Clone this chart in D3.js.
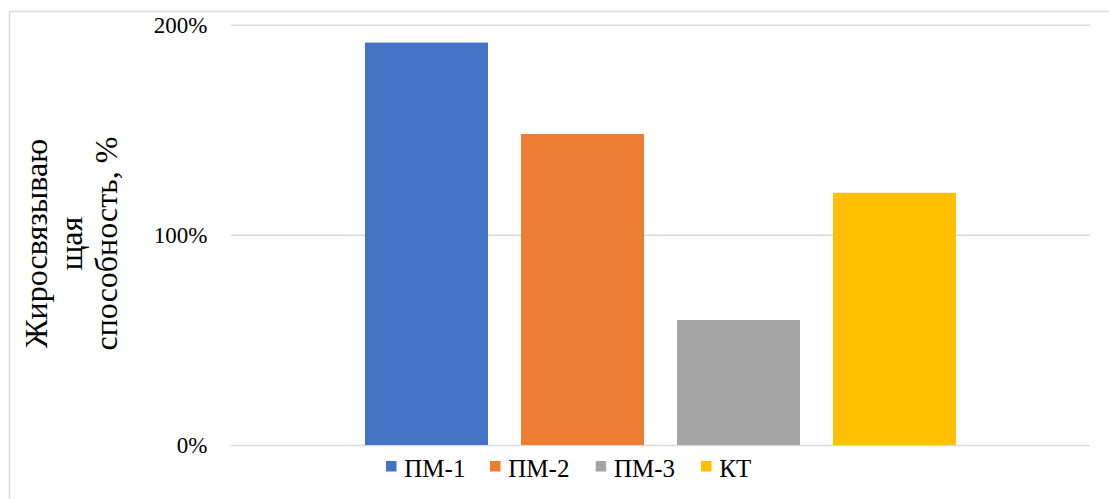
<!DOCTYPE html>
<html>
<head>
<meta charset="utf-8">
<script src="https://cdn.jsdelivr.net/npm/d3@7"></script>
</head>
<body style="margin:0;background:#fff">
<svg id="fig" width="1109" height="499" style="display:block"></svg>
<script>
// ---- data ----
const categories = [""];
const seriesNames = ["ПМ-1", "ПМ-2", "ПМ-3", "КТ"];
const seriesValues = [1.915, 1.48, 0.595, 1.20];
const seriesColors = ["#4472C4", "#ED7D31", "#A5A5A5", "#FFC000"];
const yTicks = [0, 1, 2];
const yTitleLines = ["Жиросвязываю", "щая", "способность, %"];

// ---- layout ----
const plot = { left: 231, right: 1090, top: 24.7, bottom: 445 };
const svg = d3.select("#fig");
const FONT = "Liberation Serif";

function serif(sel, size) {
  return sel.attr("font-family", FONT)
    .attr("font-size", size)
    .attr("fill", "#000")
    .style("font-family", FONT, "important")
    .style("font-size", size + "px", "important");
}

// chart border (outer frame)
svg.append("rect")
  .attr("x", 9.5).attr("y", 11.5)
  .attr("width", 1300).attr("height", 700)
  .attr("fill", "none").attr("stroke", "#D9D9D9").attr("stroke-width", 1.5);

const y = d3.scaleLinear().domain([0, 2]).range([plot.bottom, plot.top]);
const x0 = d3.scaleBand().domain(categories).range([plot.left, plot.right])
  .paddingInner(0).paddingOuter(0.2267);
const x1 = d3.scaleBand().domain(seriesNames).range([0, x0.bandwidth()])
  .paddingInner(0.2115).paddingOuter(0);

// gridlines + tick labels
const yAxis = d3.axisLeft(y).tickValues(yTicks)
  .tickSize(-(plot.right - plot.left))
  .tickFormat(d => d3.format(".0%")(d));
const gAxis = svg.append("g")
  .attr("transform", `translate(${plot.left},0)`)
  .call(yAxis);
gAxis.attr("font-family", FONT).attr("font-size", 23);
gAxis.select(".domain").remove();
gAxis.selectAll(".tick line").attr("stroke", "#D9D9D9").attr("stroke-width", 1.5);
serif(gAxis.selectAll(".tick text"), 23)
  .attr("x", -23.5)
  .attr("dy", "0.33em");

// bars
const data = seriesNames.map((name, i) => ({ name, value: seriesValues[i], color: seriesColors[i] }));
svg.append("g").selectAll("rect")
  .data(data).join("rect")
  .attr("x", d => x0(categories[0]) + x1(d.name))
  .attr("y", d => y(d.value))
  .attr("width", x1.bandwidth())
  .attr("height", d => y(0) - y(d.value))
  .attr("fill", d => d.color);

// legend
const legendX = [386, 490, 595.7, 701];
data.forEach((d, i) => {
  svg.append("rect")
    .attr("x", legendX[i]).attr("y", 461)
    .attr("width", 10.5).attr("height", 10.5)
    .attr("fill", d.color);
  serif(svg.append("text"), 25)
    .attr("x", legendX[i] + 18.3).attr("y", 476.7)
    .text(d.name);
});

// y-axis title
const baselines = [47, 82, 117];
yTitleLines.forEach((t, i) => {
  serif(svg.append("text"), 32)
    .attr("transform", "translate(0,243.5) rotate(-90)")
    .attr("x", 0).attr("y", baselines[i])
    .attr("text-anchor", "middle")
    .text(t);
});
</script>
</body>
</html>
